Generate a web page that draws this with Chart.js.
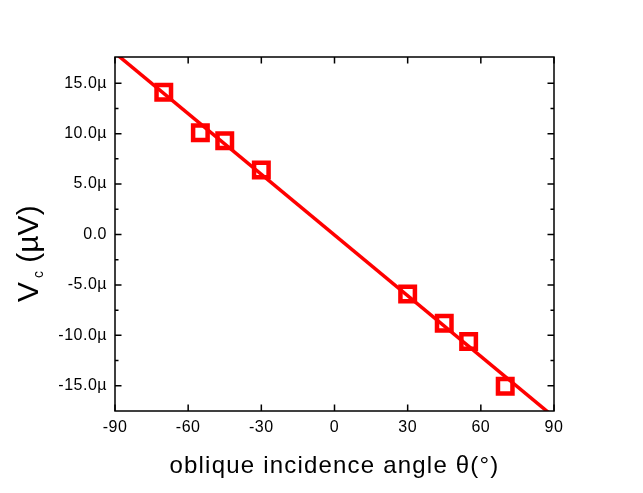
<!DOCTYPE html>
<html>
<head>
<meta charset="utf-8">
<script src="https://cdn.jsdelivr.net/npm/chart.js@4/dist/chart.umd.min.js"></script>
<style>
  html, body { margin: 0; padding: 0; background: #ffffff; }
  #wrap { width: 643px; height: 493px; }
</style>
</head>
<body>
<div id="wrap"><canvas id="c" width="643" height="493"></canvas></div>
<script>
// ---- data (µV units on y) ----
const angles = [-70, -55, -45, -30, 30, 45, 55, 70];
const vc = [14.1, 10.1, 9.3, 6.4, -5.9, -8.8, -10.6, -15.05];
// fitted straight line, end points
const fitX = [-90, 90];
const fitY = [18.0, -18.1];
// axes
const xTicks = [-90, -60, -30, 0, 30, 60, 90];
const yTicks = [-15, -10, -5, 0, 5, 10, 15];
const yMinorTicks = [-12.5, -7.5, -2.5, 2.5, 7.5, 12.5];
const xRange = [-90, 90];
const yRange = [-17.5, 17.6];
const xTitle = 'oblique incidence angle θ(°)';
const yTitleMain = 'V';
const yTitleSub = 'c';
const yTitleRest = ' (µV)';

const RED = '#ff0000';
const FONT = "'Liberation Sans', Arial, sans-serif";

const framePlugin = {
  id: 'frame',
  beforeDraw(chart) {
    chart.ctx.letterSpacing = '0.5px';
  },
  afterDraw(chart) {
    const ctx = chart.ctx;
    const a = chart.chartArea;
    const xs = chart.scales.x, ys = chart.scales.y;
    ctx.save();
    ctx.letterSpacing = '0px';
    ctx.strokeStyle = '#000';
    ctx.lineWidth = 1.5;
    ctx.strokeRect(a.left, a.top, a.right - a.left, a.bottom - a.top);
    ctx.beginPath();
    const maj = 6.5, mnr = 3.5;
    xTicks.forEach(v => {
      const p = xs.getPixelForValue(v);
      ctx.moveTo(p, a.bottom); ctx.lineTo(p, a.bottom - maj);
      ctx.moveTo(p, a.top); ctx.lineTo(p, a.top + maj);
    });
    yTicks.forEach(v => {
      const p = ys.getPixelForValue(v);
      ctx.moveTo(a.left, p); ctx.lineTo(a.left + maj, p);
      ctx.moveTo(a.right, p); ctx.lineTo(a.right - maj, p);
    });
    yMinorTicks.forEach(v => {
      const p = ys.getPixelForValue(v);
      ctx.moveTo(a.left, p); ctx.lineTo(a.left + mnr, p);
      ctx.moveTo(a.right, p); ctx.lineTo(a.right - mnr, p);
    });
    ctx.stroke();

    // x title
    ctx.fillStyle = '#000';
    ctx.letterSpacing = '1.2px';
    ctx.font = '24px ' + FONT;
    ctx.textAlign = 'center';
    ctx.textBaseline = 'alphabetic';
    ctx.fillText(xTitle, (a.left + a.right) / 2, 473);

    // y title (rotated, with subscript)
    ctx.letterSpacing = '0px';
    ctx.translate(38, 302);
    ctx.rotate(-Math.PI / 2);
    ctx.textAlign = 'left';
    ctx.font = '30px ' + FONT;
    ctx.fillText(yTitleMain, 0, 0);
    const w1 = ctx.measureText(yTitleMain).width;
    ctx.font = '14px ' + FONT;
    ctx.fillText(yTitleSub, w1 + 4, 5);
    const w2 = ctx.measureText(yTitleSub).width;
    ctx.font = '30px ' + FONT;
    ctx.fillText(yTitleRest, w1 + 4 + w2, 0);
    ctx.restore();
  }
};

new Chart(document.getElementById('c'), {
  type: 'scatter',
  data: {
    datasets: [
      {
        type: 'line',
        data: fitX.map((x, i) => ({ x, y: fitY[i] })),
        borderColor: RED,
        borderWidth: 3.5,
        pointRadius: 0,
        fill: false,
        tension: 0
      },
      {
        data: angles.map((x, i) => ({ x, y: vc[i] })),
        pointStyle: 'rect',
        pointRadius: 10.25,
        pointHoverRadius: 10.25,
        pointBorderWidth: 4.5,
        borderColor: RED,
        backgroundColor: 'rgba(0,0,0,0)',
        showLine: false
      }
    ]
  },
  options: {
    responsive: false,
    animation: false,
    events: [],
    layout: { padding: { left: 0, top: 57, right: 89, bottom: 0 } },
    plugins: { legend: { display: false }, tooltip: { enabled: false }, title: { display: false } },
    scales: {
      x: {
        type: 'linear',
        min: xRange[0], max: xRange[1],
        afterBuildTicks: s => { s.ticks = xTicks.map(v => ({ value: v })); },
        afterFit: s => { s.height = 82; },
        grid: { display: false, drawTicks: false, tickLength: 0 },
        border: { display: false },
        ticks: {
          color: '#000',
          font: { family: FONT, size: 16 },
          padding: 7,
          maxRotation: 0,
          autoSkip: false,
          callback: v => String(v)
        }
      },
      y: {
        type: 'linear',
        min: yRange[0], max: yRange[1],
        afterBuildTicks: s => { s.ticks = yTicks.map(v => ({ value: v })); },
        afterFit: s => { s.width = 115; },
        grid: { display: false, drawTicks: false, tickLength: 0 },
        border: { display: false },
        ticks: {
          color: '#000',
          font: { family: FONT, size: 16 },
          padding: 8,
          autoSkip: false,
          callback: v => (v === 0 ? '0.0' : v.toFixed(1) + 'µ')
        }
      }
    }
  },
  plugins: [framePlugin]
});
</script>
</body>
</html>
